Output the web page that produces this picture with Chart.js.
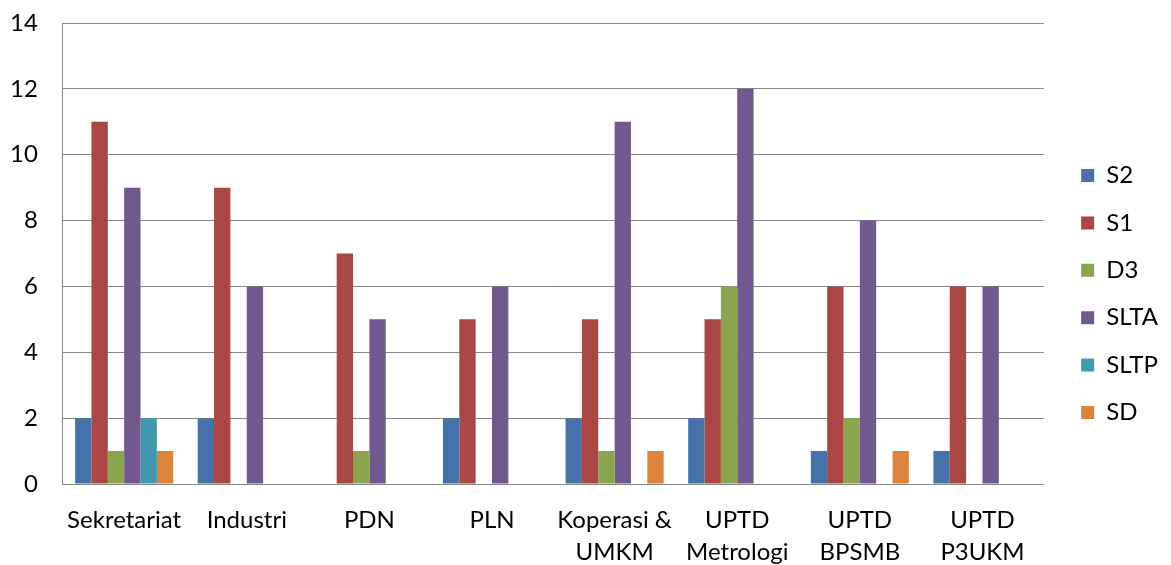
<!DOCTYPE html>
<html>
<head>
<meta charset="utf-8">
<script src="https://cdn.jsdelivr.net/npm/chart.js@4"></script>
<style>
html,body{margin:0;padding:0;background:#fff;}
#wrap{width:1171px;height:565px;position:relative;}
</style>
</head>
<body>
<div id="wrap"><canvas id="c" width="1171" height="565"></canvas></div>
<script>
const categories = [
  "Sekretariat", "Industri", "PDN", "PLN",
  ["Koperasi &", "UMKM"], ["UPTD", "Metrologi"], ["UPTD", "BPSMB"], ["UPTD", "P3UKM"]
];
const seriesNames = ["S2", "S1", "D3", "SLTA", "SLTP", "SD"];
const S2   = [2, 2, 0, 2, 2, 2, 1, 1];
const S1   = [11, 9, 7, 5, 5, 5, 6, 6];
const D3   = [1, 0, 1, 0, 1, 6, 2, 0];
const SLTA = [9, 6, 5, 6, 11, 12, 8, 6];
const SLTP = [2, 0, 0, 0, 0, 0, 0, 0];
const SD   = [1, 0, 0, 0, 1, 0, 1, 0];
const yTicks = [0, 2, 4, 6, 8, 10, 12, 14];

const colors = ["#4572A7", "#AA4643", "#89A54E", "#71588F", "#4198AF", "#DB843D"];
const values = [S2, S1, D3, SLTA, SLTP, SD];
const FONT = "Lato";

new Chart(document.getElementById("c"), {
  type: "bar",
  data: {
    labels: categories,
    datasets: seriesNames.map((n, i) => ({
      label: n,
      data: values[i],
      backgroundColor: colors[i],
      borderWidth: 0,
      categoryPercentage: 0.8,
      barPercentage: 1.0
    }))
  },
  options: {
    responsive: false,
    animation: false,
    layout: { padding: { left: 6, top: 23, right: 3, bottom: 0 } },
    plugins: {
      tooltip: { enabled: false },
      legend: {
        position: "right",
        align: "center",
        labels: {
          boxWidth: 13, boxHeight: 13,
          font: { family: FONT, size: 24 },
          color: "#000",
          padding: 23.4
        }
      }
    },
    scales: {
      x: {
        grid: { display: false },
        border: { display: true, color: "#868686", width: 1 },
        ticks: {
          font: { family: FONT, size: 24, lineHeight: 1.3 },
          color: "#000",
          padding: 13,
          maxRotation: 0,
          autoSkip: false
        },
        afterFit: (s) => { s.height = 81; }
      },
      y: {
        min: 0, max: 14,
        afterBuildTicks: (s) => { s.ticks = yTicks.map(v => ({ value: v })); },
        grid: { color: "#868686", lineWidth: 1, drawTicks: true, tickLength: 21, tickColor: "rgba(0,0,0,0)" },
        border: { display: true, color: "#868686", width: 1 },
        ticks: {
          font: { family: FONT, size: 24 },
          color: "#000",
          padding: 4
        }
      },
      y2: {
        position: "right",
        display: true,
        grid: { display: false },
        border: { display: false },
        ticks: { display: false },
        afterFit: (s) => { s.width = 14; }
      }
    }
  }
});
</script>
</body>
</html>
